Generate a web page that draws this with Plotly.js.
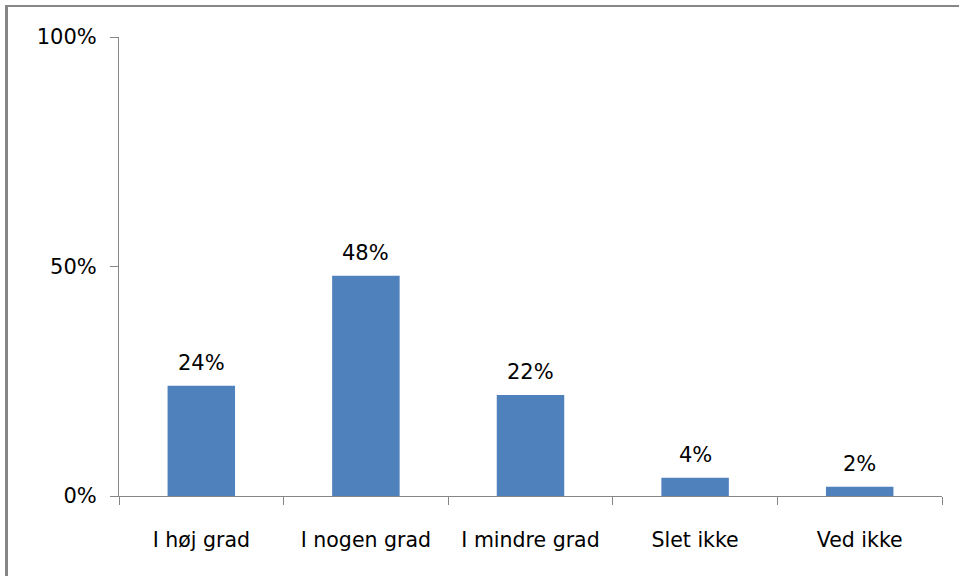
<!DOCTYPE html>
<html>
<head>
<meta charset="utf-8">
<script src="https://cdn.plot.ly/plotly-3.0.1.min.js"></script>
<style>
  html, body { margin: 0; padding: 0; background: #fff; }
  #chart { width: 959px; height: 576px; }
  #frame { position: absolute; left: 5px; top: 5px; width: 954px; height: 571px;
           border-left: 3px solid #868686; border-top: 2px solid #868686;
           box-sizing: border-box; pointer-events: none; }
</style>
</head>
<body>
<div id="chart"></div>
<div id="frame"></div>
<script>
const categories = ["I høj grad", "I nogen grad", "I mindre grad", "Slet ikke", "Ved ikke"];
const values = [0.24, 0.48, 0.22, 0.04, 0.02];
const valueLabels = ["24%", "48%", "22%", "4%", "2%"];
const yTickVals = [0, 0.5, 1];
const yTickText = ["0%", "50%", "100%"];

const font = "DejaVu Sans, Verdana, sans-serif";

const trace = {
  type: "bar",
  x: categories,
  y: values,
  marker: { color: "#4F81BD" },
  hoverinfo: "skip"
};

const annotations = categories.map((c, i) => ({
  x: c, y: values[i], xref: "x", yref: "y",
  text: valueLabels[i], showarrow: false,
  yanchor: "bottom", yshift: 9,
  font: { family: font, size: 21, color: "#000" }
}));

const layout = {
  width: 959, height: 576,
  margin: { l: 119, r: 17, t: 37, b: 80 },
  paper_bgcolor: "#fff", plot_bgcolor: "#fff",
  bargap: 0.59,
  showlegend: false,
  font: { family: font, size: 21, color: "#000" },
  xaxis: {
    type: "category",
    showline: true, linecolor: "#868686", linewidth: 1,
    ticks: "outside", tickson: "boundaries", ticklen: 8, tickcolor: "#868686", tickwidth: 1,
    showgrid: false, zeroline: false,
    ticklabelstandoff: 25,
    tickfont: { family: font, size: 20.5, color: "#000" }
  },
  yaxis: {
    range: [0, 1],
    tickvals: yTickVals, ticktext: yTickText,
    showline: true, linecolor: "#868686", linewidth: 1,
    ticks: "outside", ticklen: 8, tickcolor: "#868686", tickwidth: 1,
    showgrid: false, zeroline: false,
    ticklabelstandoff: 9,
    tickfont: { family: font, size: 21, color: "#000" }
  },
  annotations: annotations
};

Plotly.newPlot("chart", [trace], layout, { displayModeBar: false, staticPlot: true });
</script>
</body>
</html>
